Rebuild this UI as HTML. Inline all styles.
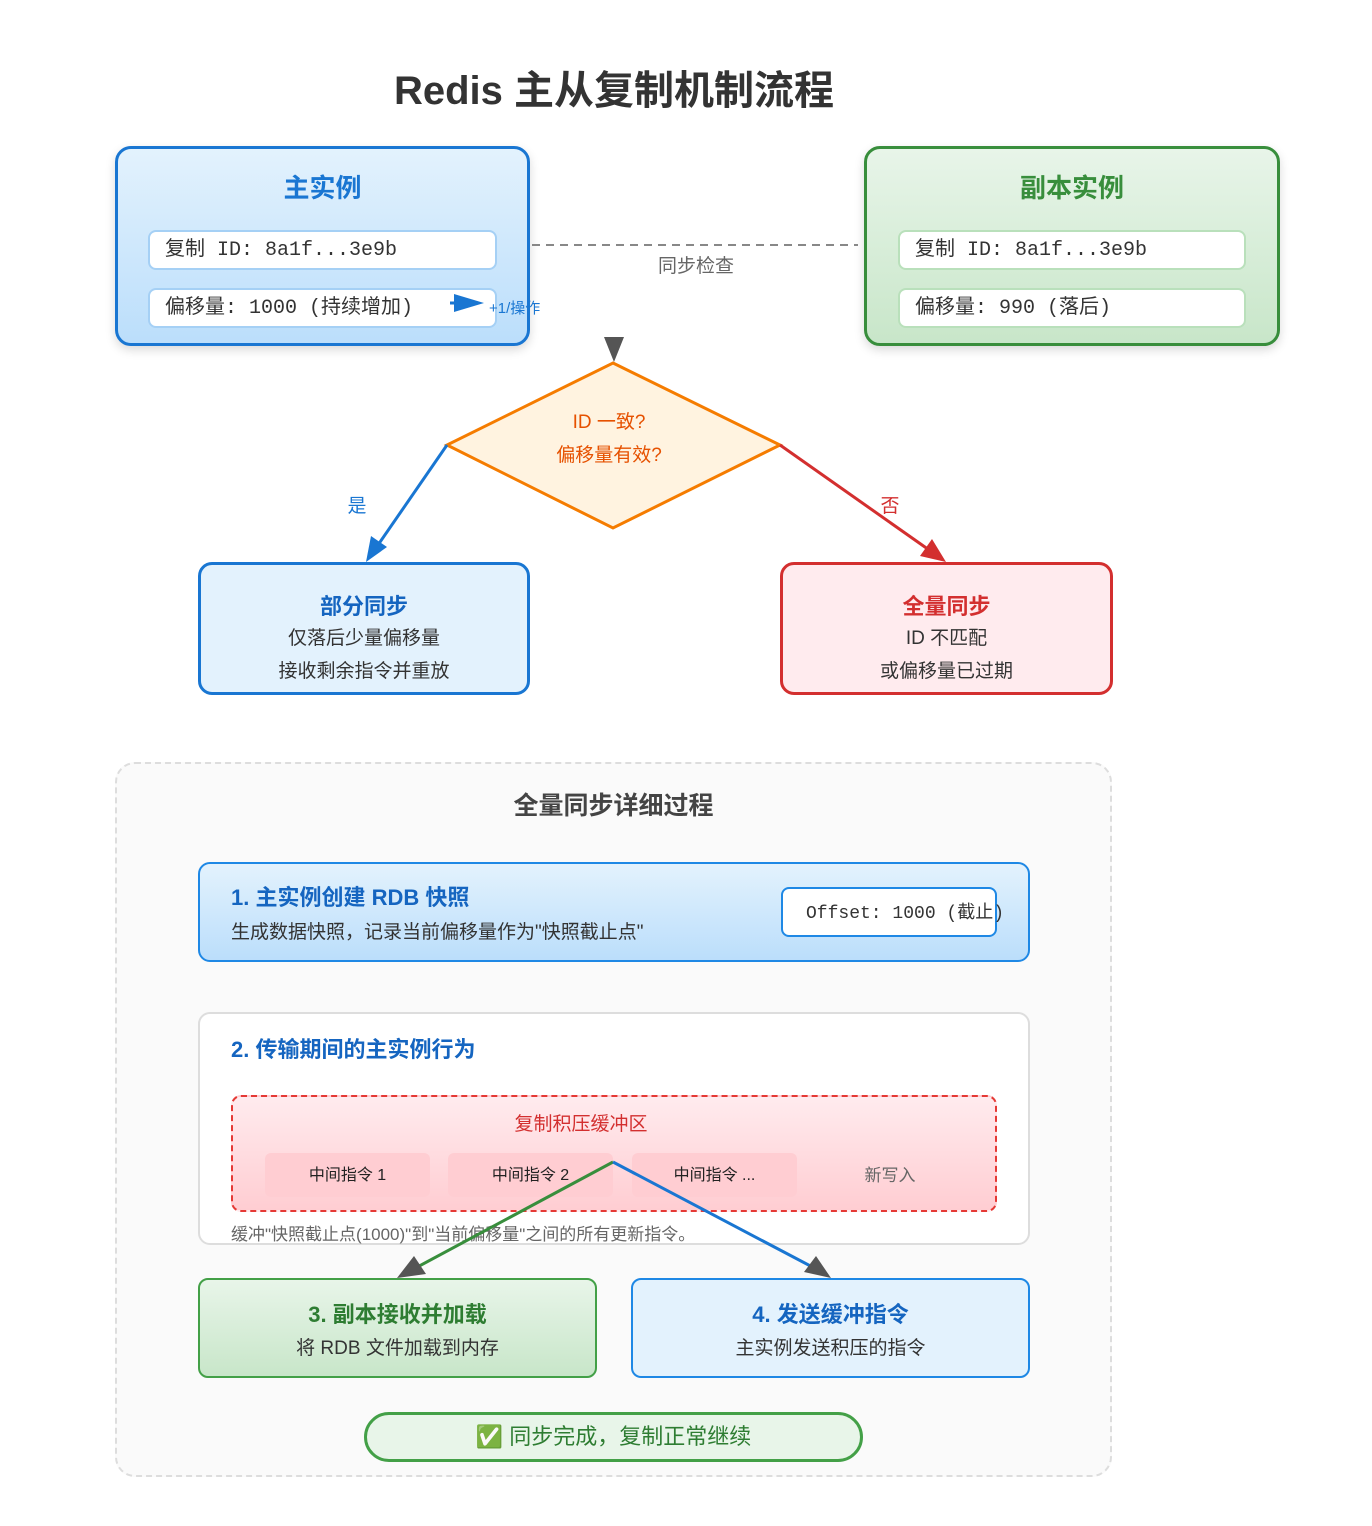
<!DOCTYPE html>
<html><head><meta charset="utf-8"><style>
*{margin:0;padding:0;box-sizing:border-box}
body{width:1372px;height:1526px;background:#fff;position:relative;font-family:"Liberation Sans","Noto Sans CJK SC",sans-serif;overflow:hidden}
.a{position:absolute}
.c{text-align:center}
.mono{font-family:"Liberation Mono","Noto Sans CJK SC",monospace}
.inner{position:absolute;background:#fff;border:2px solid #a5d0f5;border-radius:8px;font-size:20px;color:#333;padding-left:15px;line-height:38px}
</style></head><body>
<div class="a c" style="left:0;width:1228px;top:58px;font-size:40px;font-weight:bold;color:#333">Redis 主从复制机制流程</div>

<div class="a" style="left:115px;top:146px;width:415px;height:200px;border:3px solid #1976d2;border-radius:16px;background:linear-gradient(#e3f2fd,#bbdefb);box-shadow:0 4px 10px rgba(0,0,0,.15)"></div>
<div class="a c" style="left:115px;width:415px;top:168px;font-size:26px;font-weight:bold;color:#1976d2">主实例</div>
<div class="inner mono" style="left:148px;top:230px;width:349px;height:40px">复制 ID: 8a1f...3e9b</div>
<div class="inner mono" style="left:148px;top:288px;width:349px;height:40px">偏移量: 1000 (持续增加)</div>

<div class="a" style="left:864px;top:146px;width:416px;height:200px;border:3px solid #388e3c;border-radius:16px;background:linear-gradient(#e8f5e9,#c8e6c9);box-shadow:0 4px 10px rgba(0,0,0,.15)"></div>
<div class="a c" style="left:864px;width:416px;top:168px;font-size:26px;font-weight:bold;color:#388e3c">副本实例</div>
<div class="inner mono" style="left:898px;top:230px;width:348px;height:40px;border-color:#b9e0bb">复制 ID: 8a1f...3e9b</div>
<div class="inner mono" style="left:898px;top:288px;width:348px;height:40px;border-color:#b9e0bb">偏移量: 990 (落后)</div>

<div class="a" style="left:658px;top:251px;font-size:19px;color:#666">同步检查</div>
<div class="a" style="left:489px;top:297px;font-size:15px;color:#1976d2">+1/操作</div>

<div class="a" style="left:198px;top:562px;width:332px;height:133px;border:3px solid #1976d2;border-radius:14px;background:#e3f2fd"></div>
<div class="a c" style="left:198px;width:332px;top:589px;font-size:22px;font-weight:bold;color:#1565c0">部分同步</div>
<div class="a c" style="left:198px;width:332px;top:622px;font-size:19px;color:#333;line-height:33px">仅落后少量偏移量<br>接收剩余指令并重放</div>

<div class="a" style="left:780px;top:562px;width:333px;height:133px;border:3px solid #d32f2f;border-radius:14px;background:#ffebee"></div>
<div class="a c" style="left:780px;width:333px;top:589px;font-size:22px;font-weight:bold;color:#d32f2f">全量同步</div>
<div class="a c" style="left:780px;width:333px;top:622px;font-size:19px;color:#333;line-height:33px">ID 不匹配<br>或偏移量已过期</div>

<div class="a" style="left:115px;top:762px;width:997px;height:715px;border:2px dashed #ddd;border-radius:20px;background:#fafafa"></div>
<div class="a c" style="left:115px;width:997px;top:786px;font-size:25px;font-weight:bold;color:#444">全量同步详细过程</div>

<div class="a" style="left:198px;top:862px;width:832px;height:100px;border:2px solid #1e88e5;border-radius:12px;background:linear-gradient(#e3f2fd,#bbdefb)"></div>
<div class="a" style="left:231px;top:880px;font-size:22px;font-weight:bold;color:#1565c0">1. 主实例创建 RDB 快照</div>
<div class="a" style="left:231px;top:917px;font-size:19px;color:#333">生成数据快照，记录当前偏移量作为"快照截止点"</div>
<div class="a mono" style="left:781px;top:887px;width:216px;height:50px;background:#fff;border:2px solid #1e88e5;border-radius:8px;font-size:18px;line-height:50px;padding-left:23px;color:#333;white-space:nowrap">Offset: 1000 (截止)</div>

<div class="a" style="left:198px;top:1012px;width:832px;height:233px;border:2px solid #ddd;border-radius:12px;background:#fff"></div>
<div class="a" style="left:231px;top:1032px;font-size:22px;font-weight:bold;color:#1565c0">2. 传输期间的主实例行为</div>
<div class="a" style="left:231px;top:1095px;width:766px;height:117px;border:2px dashed #e53935;border-radius:10px;background:linear-gradient(#ffebee,#ffcdd2)"></div>
<div class="a c" style="left:231px;width:700px;top:1109px;font-size:19px;color:#d32f2f">复制积压缓冲区</div>
<div class="a c" style="left:265px;top:1153px;width:165px;height:44px;background:#ffcdd2;border-radius:6px;font-size:16px;line-height:46px;color:#222">中间指令 1</div>
<div class="a c" style="left:448px;top:1153px;width:165px;height:44px;background:#ffcdd2;border-radius:6px;font-size:16px;line-height:46px;color:#222">中间指令 2</div>
<div class="a c" style="left:632px;top:1153px;width:165px;height:44px;background:#ffcdd2;border-radius:6px;font-size:16px;line-height:46px;color:#222">中间指令 ...</div>
<div class="a c" style="left:815px;top:1153px;width:150px;height:44px;font-size:17px;line-height:46px;color:#666">新写入</div>
<div class="a" style="left:231px;top:1220px;font-size:17px;color:#666">缓冲"快照截止点(1000)"到"当前偏移量"之间的所有更新指令。</div>

<div class="a" style="left:198px;top:1278px;width:399px;height:100px;border:2px solid #43a047;border-radius:10px;background:linear-gradient(#e8f5e9,#c8e6c9)"></div>
<div class="a c" style="left:198px;width:399px;top:1297px;font-size:22px;font-weight:bold;color:#2e7d32">3. 副本接收并加载</div>
<div class="a c" style="left:198px;width:399px;top:1333px;font-size:19px;color:#333">将 RDB 文件加载到内存</div>

<div class="a" style="left:631px;top:1278px;width:399px;height:100px;border:2px solid #1e88e5;border-radius:10px;background:#e3f2fd"></div>
<div class="a c" style="left:631px;width:399px;top:1297px;font-size:22px;font-weight:bold;color:#1565c0">4. 发送缓冲指令</div>
<div class="a c" style="left:631px;width:399px;top:1333px;font-size:19px;color:#333">主实例发送积压的指令</div>

<div class="a c" style="left:364px;top:1412px;width:499px;height:50px;border:3px solid #43a047;border-radius:25px;background:#e8f5e9;font-size:22px;line-height:44px;color:#2e7d32">✅ 同步完成，复制正常继续</div>

<svg class="a" style="left:0;top:0" width="1372" height="1526">
<line x1="532" y1="245" x2="858" y2="245" stroke="#888" stroke-width="2" stroke-dasharray="8,6"/>
<line x1="450" y1="303" x2="466" y2="303" stroke="#1976d2" stroke-width="3"/>
<path d="M454,294L484,303L454,312z" fill="#1976d2"/>
<path d="M604,337L624,337L614,362z" fill="#555"/>
<polygon points="613,363 780,445 613,528 447,445" fill="#fff3e0" stroke="#f57c00" stroke-width="3"/>
<text x="609" y="428" font-size="19" fill="#e65100" text-anchor="middle" font-family="Liberation Sans,Noto Sans CJK SC,sans-serif">ID 一致?</text>
<text x="609" y="461" font-size="19" fill="#e65100" text-anchor="middle" font-family="Liberation Sans,Noto Sans CJK SC,sans-serif">偏移量有效?</text>
<line x1="447" y1="445" x2="378" y2="545" stroke="#1976d2" stroke-width="3"/>
<path d="M366,562L371,536L387,547z" fill="#1976d2"/>
<text x="357" y="512" font-size="19" fill="#1976d2" text-anchor="middle" font-family="Liberation Sans,Noto Sans CJK SC,sans-serif">是</text>
<line x1="780" y1="445" x2="932" y2="552" stroke="#d32f2f" stroke-width="3"/>
<path d="M946,562L920,556L932,539z" fill="#d32f2f"/>
<text x="890" y="512" font-size="19" fill="#d32f2f" text-anchor="middle" font-family="Liberation Sans,Noto Sans CJK SC,sans-serif">否</text>
<line x1="613" y1="1162" x2="410" y2="1271" stroke="#388e3c" stroke-width="3"/>
<path d="M397,1278L414,1256L426,1274z" fill="#555"/>
<line x1="613" y1="1162" x2="818" y2="1270" stroke="#1976d2" stroke-width="3"/>
<path d="M831,1278L804,1272L816,1256z" fill="#555"/>
</svg>
</body></html>
